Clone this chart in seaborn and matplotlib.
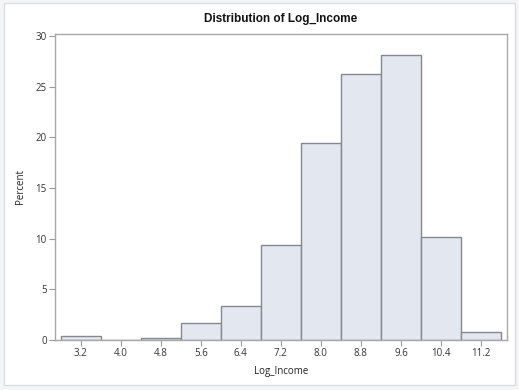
import numpy as np
import pandas as pd
import matplotlib.pyplot as plt
import seaborn as sns
from matplotlib.patches import Rectangle

bin_mid = [3.2, 4.0, 4.8, 5.6, 6.4, 7.2, 8.0, 8.8, 9.6, 10.4, 11.2]
percent = [0.4, 0.0, 0.2, 1.7, 3.4, 9.4, 19.4, 26.3, 28.15, 10.2, 0.8]
bin_width = 0.8
y_ticks = [0, 5, 10, 15, 20, 25, 30]

df = pd.DataFrame({'Log_Income': bin_mid, 'Percent': percent})
edges = [m - bin_width / 2 for m in bin_mid] + [bin_mid[-1] + bin_width / 2]

sns.set_style('white')
plt.rcParams['font.family'] = ['Open Sans', 'DejaVu Sans']

fig = plt.figure(figsize=(5.19, 3.9), dpi=100)
fig.patch.set_facecolor('#f4f5f7')
fig.patches.append(Rectangle((4 / 519, 1 - 385 / 390), 511 / 519, 382 / 390,
                             transform=fig.transFigure, facecolor='white',
                             edgecolor='#dcdde0', linewidth=1, zorder=-1))

ax = fig.add_axes([55 / 519, 1 - 340 / 390, 452 / 519, 306.5 / 390])
sns.histplot(data=df, x='Log_Income', weights='Percent', bins=edges,
             stat='count', color='#e3e7f0', edgecolor='#85888e', linewidth=1,
             alpha=1, ax=ax)

ax.set_xlim(2.686, 11.72)
ax.set_ylim(0, 30.25)
ax.set_xticks(bin_mid)
ax.set_xticklabels([f'{m:.1f}' for m in bin_mid])
ax.set_yticks(y_ticks)
ax.tick_params(axis='both', labelsize=7, colors='#9a9a9a', labelcolor='#333333',
               length=4, width=0.8, direction='out', bottom=True, left=True, pad=2)
for side in ax.spines.values():
    side.set_color('#a8a8a8')
    side.set_linewidth(1)

ax.set_xlabel('Log_Income', fontsize=7, color='#222222', labelpad=5)
ax.set_ylabel('Percent', fontsize=7, color='#222222', labelpad=7)
ax.set_title('Distribution of Log_Income', fontsize=8.5, fontweight='bold',
             family='Liberation Sans', color='#111111', pad=8)

fig.savefig('out.png', dpi=100, facecolor=fig.get_facecolor())
